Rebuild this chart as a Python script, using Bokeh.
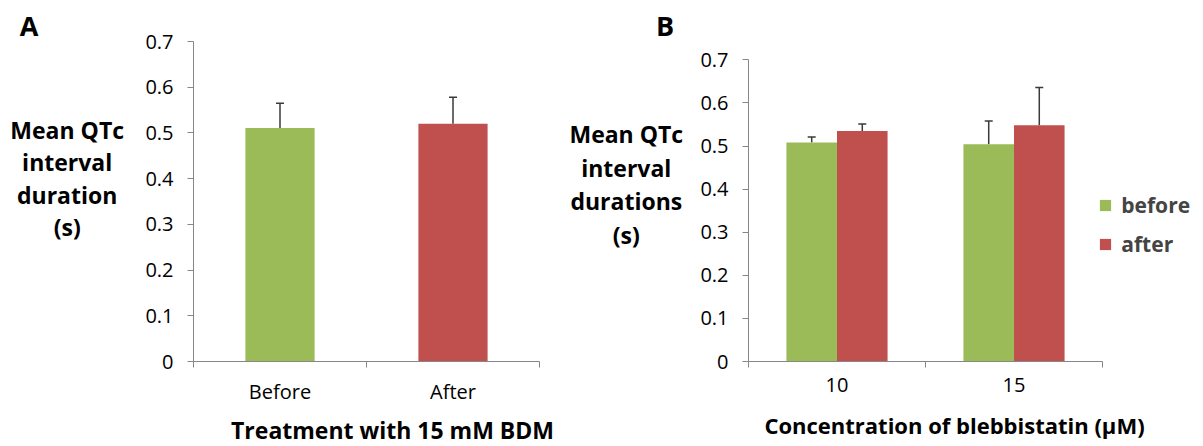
from bokeh.plotting import figure
from bokeh.models import (Range1d, FixedTicker, Whisker, TeeHead, ColumnDataSource,
                          Label, Legend, LegendItem)
from bokeh.layouts import row
from bokeh.embed import file_html
from bokeh.resources import INLINE

# ---------------- data ----------------
cats_a = ["Before", "After"]
vals_a = [0.511, 0.520]
errs_a = [0.054, 0.058]

cats_b = ["10", "15"]
before_b = [0.508, 0.504]
before_err_b = [0.013, 0.054]
after_b = [0.535, 0.548]
after_err_b = [0.016, 0.088]
series_names = ["before", "after"]

ytick_labels = ["0", "0.1", "0.2", "0.3", "0.4", "0.5", "0.6", "0.7"]

ytitle_a = ["Mean QTc", "interval", "duration", "(s)"]
ytitle_b = ["Mean QTc", "interval", "durations", "(s)"]
xtitle_a = "Treatment with 15 mM BDM"
xtitle_b = "Concentration of blebbistatin (\u00b5M)"

# ---------------- style / layout ----------------
GREEN = "#9BBB59"
RED = "#C0504D"
AXIS = "#868686"
ERR = "#3a3a3a"
FONT = "Open Sans"
W_A, W_B, H = 555, 648, 446
# frames in page pixels; "ax" = pixel where the category axis ends
FR_A = dict(l=193, r=539, ax=539, t=41, b=361)
FR_B = dict(l=748, r=1203, ax=1102, t=41, b=361)   # B frame runs under the legend
YMAX = 0.7
YEND_B = YMAX * (FR_B["b"] - FR_B["t"]) / (FR_B["b"] - 59.3)   # 0.7 sits at y=59.3


def style(p, cats):
    p.xgrid.visible = False
    p.ygrid.visible = False
    p.outline_line_color = None
    p.background_fill_color = "white"
    p.border_fill_color = "white"
    xa = p.xaxis[0]
    n = len(cats)
    centers = [i + 0.5 for i in range(n)]
    xa.ticker = FixedTicker(ticks=centers, minor_ticks=[float(i) for i in range(n + 1)])
    xa.major_label_overrides = {c: s for c, s in zip(centers, cats)}
    xa.bounds = (0, n)
    xa.major_tick_out = 0
    xa.major_tick_in = 0
    xa.major_tick_line_color = None
    xa.minor_tick_out = 6
    xa.minor_tick_in = 0
    xa.minor_tick_line_color = AXIS
    xa.axis_line_color = AXIS
    xa.major_label_text_font = FONT
    xa.major_label_text_font_size = "20px"
    xa.major_label_text_color = "black"
    xa.major_label_standoff = 10
    ya = p.yaxis[0]
    yt = [float(s) for s in ytick_labels]
    ya.ticker = FixedTicker(ticks=yt, minor_ticks=[])
    ya.major_label_overrides = dict(zip(yt, ytick_labels))
    ya.bounds = (0, YMAX)
    ya.major_tick_out = 6
    ya.major_tick_in = 0
    ya.major_tick_line_color = AXIS
    ya.minor_tick_line_color = None
    ya.axis_line_color = AXIS
    ya.major_label_text_font = FONT
    ya.major_label_text_font_size = "20px"
    ya.major_label_text_color = "black"
    ya.major_label_standoff = 14


def xscale(fr, n):
    return n / (fr["ax"] - fr["l"])       # data units per pixel


def make_fig(x0, width, fr, n, yend):
    return figure(width=width, height=H, output_backend="svg", toolbar_location=None, title=None,
                  x_range=Range1d(0, (fr["r"] - fr["l"]) * xscale(fr, n)),
                  y_range=Range1d(0, yend),
                  min_border_left=fr["l"] - x0, min_border_right=x0 + width - fr["r"],
                  min_border_top=fr["t"], min_border_bottom=H - fr["b"])


def to_data(fr, n, yend, px, py):
    x = (px - fr["l"]) * xscale(fr, n)
    y = (fr["b"] - py) / (fr["b"] - fr["t"]) * yend
    return x, y


def add_label(p, fr, n, yend, px, py, text, size, side, align="center", lh=1.2):
    x, y = to_data(fr, n, yend, px, py)
    p.add_layout(Label(x=x, y=y, text=text, text_font=FONT, text_font_size=size,
                       text_font_style="bold", text_align=align,
                       text_baseline="middle", text_line_height=lh, text_color="black"), side)


def add_err(p, xs, vals, errs):
    src = ColumnDataSource(dict(x=xs, lower=vals, upper=[v + e for v, e in zip(vals, errs)]))
    p.add_layout(Whisker(source=src, base="x", lower="lower", upper="upper",
                         dimension="height", line_color=ERR, line_width=1.5,
                         lower_head=None,
                         upper_head=TeeHead(size=8, line_color=ERR, line_width=1.5)))


# ---------------- panel A ----------------
na = len(cats_a)
pa = make_fig(0, W_A, FR_A, na, YMAX)
style(pa, cats_a)
xs_a = [i + 0.5 for i in range(na)]
pa.vbar(x=xs_a, top=vals_a, width=0.4, bottom=0, fill_color=[GREEN, RED], line_color=None)
add_err(pa, xs_a, vals_a, errs_a)

add_label(pa, FR_A, na, YMAX, 28.5, 25, "A", "27px", "left")
add_label(pa, FR_A, na, YMAX, 66.7, 178, "\n".join(ytitle_a), "23px", "left", lh=1.02)
add_label(pa, FR_A, na, YMAX, 392, 429, xtitle_a, "23px", "above")

# ---------------- panel B ----------------
nb = len(cats_b)
pb = make_fig(W_A, W_B, FR_B, nb, YEND_B)
style(pb, cats_b)
bw = 1 / 3.5
xs_b1 = [i + 0.5 - bw / 2 for i in range(nb)]
xs_b2 = [i + 0.5 + bw / 2 for i in range(nb)]
r1 = pb.vbar(x=xs_b1, top=before_b, width=bw, bottom=0, fill_color=GREEN, line_color=None)
r2 = pb.vbar(x=xs_b2, top=after_b, width=bw, bottom=0, fill_color=RED, line_color=None)
add_err(pb, xs_b1, before_b, before_err_b)
add_err(pb, xs_b2, after_b, after_err_b)

legend = Legend(items=[LegendItem(label=series_names[0], renderers=[r1]),
                       LegendItem(label=series_names[1], renderers=[r2])],
                location=(1098.3 - FR_B["l"], 103), border_line_color=None,
                background_fill_alpha=0, padding=0, margin=0, spacing=11,
                glyph_width=14, glyph_height=14, label_standoff=9, label_text_font=FONT,
                label_text_font_style="bold", label_text_font_size="21px")
pb.add_layout(legend)

add_label(pb, FR_B, nb, YEND_B, 664.6, 25, "B", "27px", "left")
add_label(pb, FR_B, nb, YEND_B, 625.8, 184, "\n".join(ytitle_b), "23px", "left", lh=1.05)
add_label(pb, FR_B, nb, YEND_B, 954, 424, xtitle_b, "22px", "above")

layout = row(pa, pb)
open("out.html", "w").write(file_html(layout, INLINE))
